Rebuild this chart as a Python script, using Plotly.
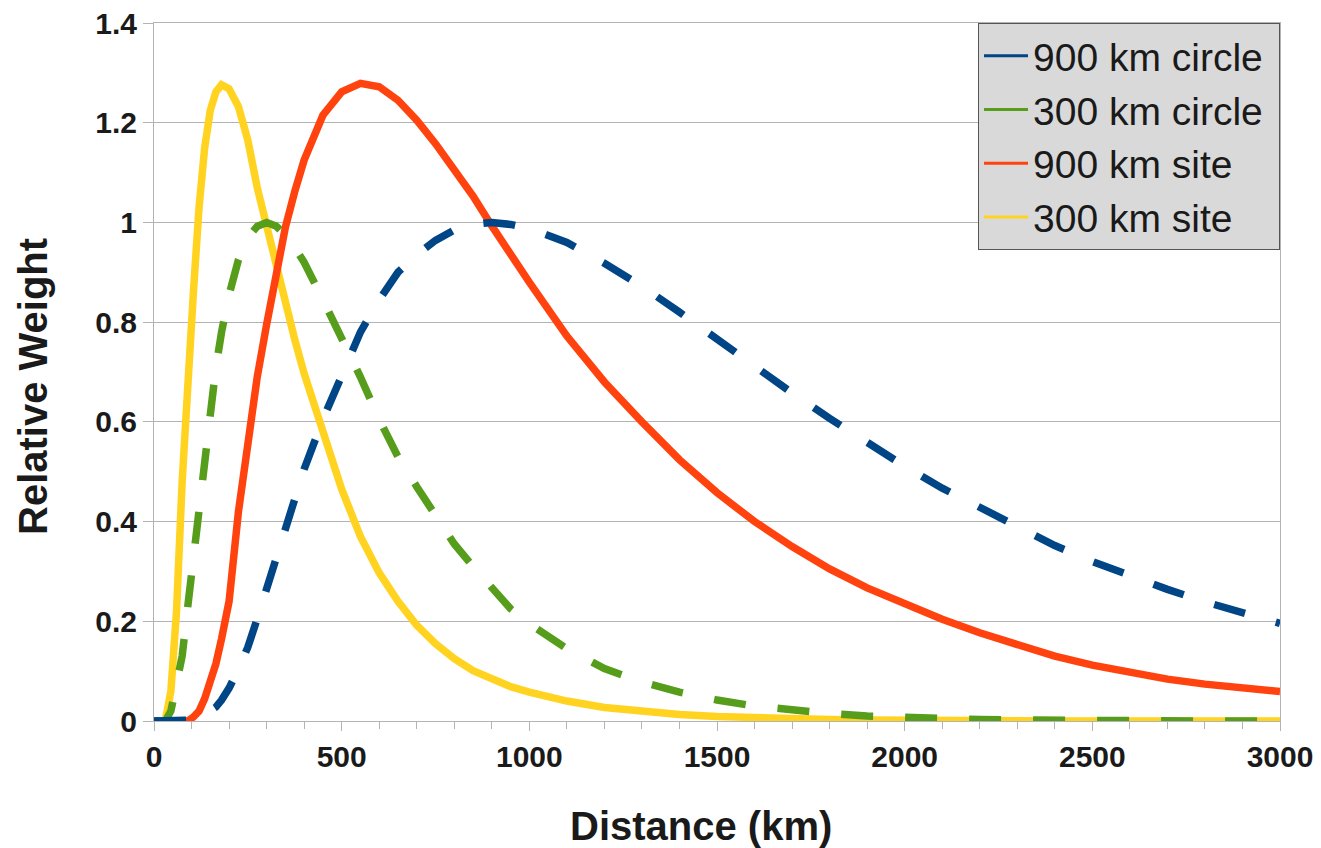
import plotly.graph_objects as go

distance_km = [0, 30, 45, 60, 75, 90, 105, 120, 135, 150, 165, 180, 200, 225, 250, 275,
               300, 325, 350, 375, 400, 450, 500, 550, 600, 650, 700, 750, 800, 850, 900,
               950, 1000, 1100, 1200, 1300, 1400, 1500, 1600, 1700, 1800, 1900, 2000, 2100,
               2200, 2300, 2400, 2500, 2600, 2700, 2800, 2900, 3000]

circle_900 = [0, 0, 0, 0, 0, 0, 0.002, 0.006, 0.012, 0.02, 0.028, 0.042, 0.066, 0.104, 0.148,
              0.205, 0.263, 0.325, 0.382, 0.44, 0.505, 0.605, 0.69, 0.78, 0.845, 0.9, 0.935,
              0.964, 0.985, 0.996, 1.0, 0.996, 0.988, 0.96, 0.918, 0.872, 0.82, 0.765, 0.712,
              0.658, 0.607, 0.557, 0.511, 0.467, 0.428, 0.388, 0.352, 0.32, 0.291, 0.264,
              0.239, 0.217, 0.196]

circle_300 = [0, 0, 0.02, 0.07, 0.13, 0.23, 0.33, 0.43, 0.54, 0.63, 0.71, 0.78, 0.855, 0.925,
              0.97, 0.992, 1.0, 0.993, 0.975, 0.95, 0.92, 0.845, 0.77, 0.69, 0.605, 0.53, 0.47,
              0.41, 0.355, 0.31, 0.265, 0.225, 0.195, 0.145, 0.105, 0.078, 0.058, 0.042, 0.03,
              0.021, 0.015, 0.01, 0.007, 0.005, 0.003, 0.002, 0.001, 0, 0, 0, 0, 0, 0]

site_900 = [0, 0, 0, 0, 0, 0, 0.008, 0.02, 0.045, 0.075, 0.115, 0.165, 0.24, 0.42, 0.57, 0.69,
            0.795, 0.9, 0.99, 1.062, 1.125, 1.215, 1.262, 1.279, 1.272, 1.245, 1.205, 1.158,
            1.108, 1.053, 0.993, 0.935, 0.88, 0.772, 0.68, 0.6, 0.524, 0.458, 0.4, 0.35,
            0.305, 0.267, 0.235, 0.204, 0.177, 0.152, 0.13, 0.112, 0.097, 0.084, 0.074,
            0.066, 0.059]

site_300 = [0, 0, 0.06, 0.22, 0.48, 0.69, 0.86, 1.03, 1.15, 1.225, 1.262, 1.276, 1.268, 1.232,
            1.165, 1.07, 0.99, 0.915, 0.84, 0.765, 0.697, 0.578, 0.465, 0.37, 0.297, 0.24,
            0.192, 0.155, 0.125, 0.101, 0.083, 0.069, 0.058, 0.04, 0.027, 0.019, 0.013, 0.009,
            0.006, 0.004, 0.003, 0.002, 0.001, 0, 0, 0, 0, 0, 0, 0, 0, 0, 0]

y_tickvals = [0, 0.2, 0.4, 0.6, 0.8, 1.0, 1.2, 1.4]
y_ticktext = ["0", "0.2", "0.4", "0.6", "0.8", "1", "1.2", "1.4"]
x_tickvals = [0, 500, 1000, 1500, 2000, 2500, 3000]
x_ticktext = ["0", "500", "1000", "1500", "2000", "2500", "3000"]

series = [
    ("900 km circle", circle_900, "#004586", "32px,32px"),
    ("300 km circle", circle_300, "#579d1c", "32px,32px"),
    ("900 km site", site_900, "#ff420e", "solid"),
    ("300 km site", site_300, "#ffd320", "solid"),
]

x_title = "Distance (km)"
y_title = "Relative Weight"

FONT = "Liberation Sans, Arial, sans-serif"
INK = "#1a1a1a"
grid = "#b3b3b3"

fig = go.Figure()
# draw in reverse order so the circles sit on top of the site curves
for name, vals, color, dash in reversed(series):
    fig.add_trace(go.Scatter(x=distance_km, y=vals, mode="lines", name=name,
                             line=dict(color=color, width=7.5, dash=dash),
                             showlegend=False, hoverinfo="skip"))
# legend entries with thin solid sample lines
for rank, (name, vals, color, dash) in enumerate(series):
    fig.add_trace(go.Scatter(x=[None], y=[None], mode="lines", name=name + "\u00a0",
                             line=dict(color=color, width=3), legendrank=rank + 1))

# the page body adds an 8px offset, so margins are set 8px smaller on the top/left
fig.update_layout(
    width=1321, height=848,
    margin=dict(l=146, r=49, t=15, b=135, autoexpand=False),
    paper_bgcolor="white", plot_bgcolor="white",
    font=dict(family=FONT, color=INK),
    showlegend=True,
    legend=dict(x=1, y=1, xanchor="right", yanchor="top",
                bgcolor="#d9d9d9", bordercolor="#555555", borderwidth=1,
                font=dict(size=39, family=FONT, color=INK),
                itemwidth=44, tracegroupgap=0),
    xaxis=dict(range=[0, 3000], tickmode="array", tickvals=x_tickvals, ticktext=x_ticktext,
               showgrid=False,
               showline=True, linecolor=grid, linewidth=1, mirror=True,
               ticks="outside", ticklen=9, tickcolor=grid, ticklabeloverflow="allow",
               minor=dict(dtick=100, tick0=0, ticks="outside", ticklen=7, tickcolor=grid),
               tickfont=dict(size=30, family=FONT, color=INK, weight="bold"),
               automargin=False, zeroline=False),
    xaxis2=dict(range=[0, 3000], overlaying="x", anchor="y", side="bottom",
                tickmode="array", tickvals=x_tickvals, ticks="inside", ticklen=8,
                tickcolor=grid, showticklabels=False, showgrid=False, showline=False,
                zeroline=False, automargin=False),
    yaxis=dict(range=[0, 1.4], tickmode="array", tickvals=y_tickvals, ticktext=y_ticktext,
               showgrid=True, gridcolor=grid,
               gridwidth=1, showline=True, linecolor=grid, linewidth=1, mirror=True,
               ticks="outside", ticklen=10, tickcolor=grid, ticklabeloverflow="allow",
               tickfont=dict(size=30, family=FONT, color=INK, weight="bold"),
               automargin=False, zeroline=False),
    annotations=[
        dict(text="<b>" + x_title + "</b>", xref="paper", yref="paper",
             x=(701 - 154) / 1126, y=(721 - 826) / 698, xanchor="center", yanchor="middle",
             showarrow=False, font=dict(size=40, family=FONT, color=INK)),
        dict(text="<b>" + y_title + "</b>", xref="paper", yref="paper",
             x=(33 - 154) / 1126, y=(721 - 387) / 698, xanchor="center", yanchor="middle",
             textangle=-90, showarrow=False, font=dict(size=40, family=FONT, color=INK)),
    ],
)

fig.write_html("out.html")
